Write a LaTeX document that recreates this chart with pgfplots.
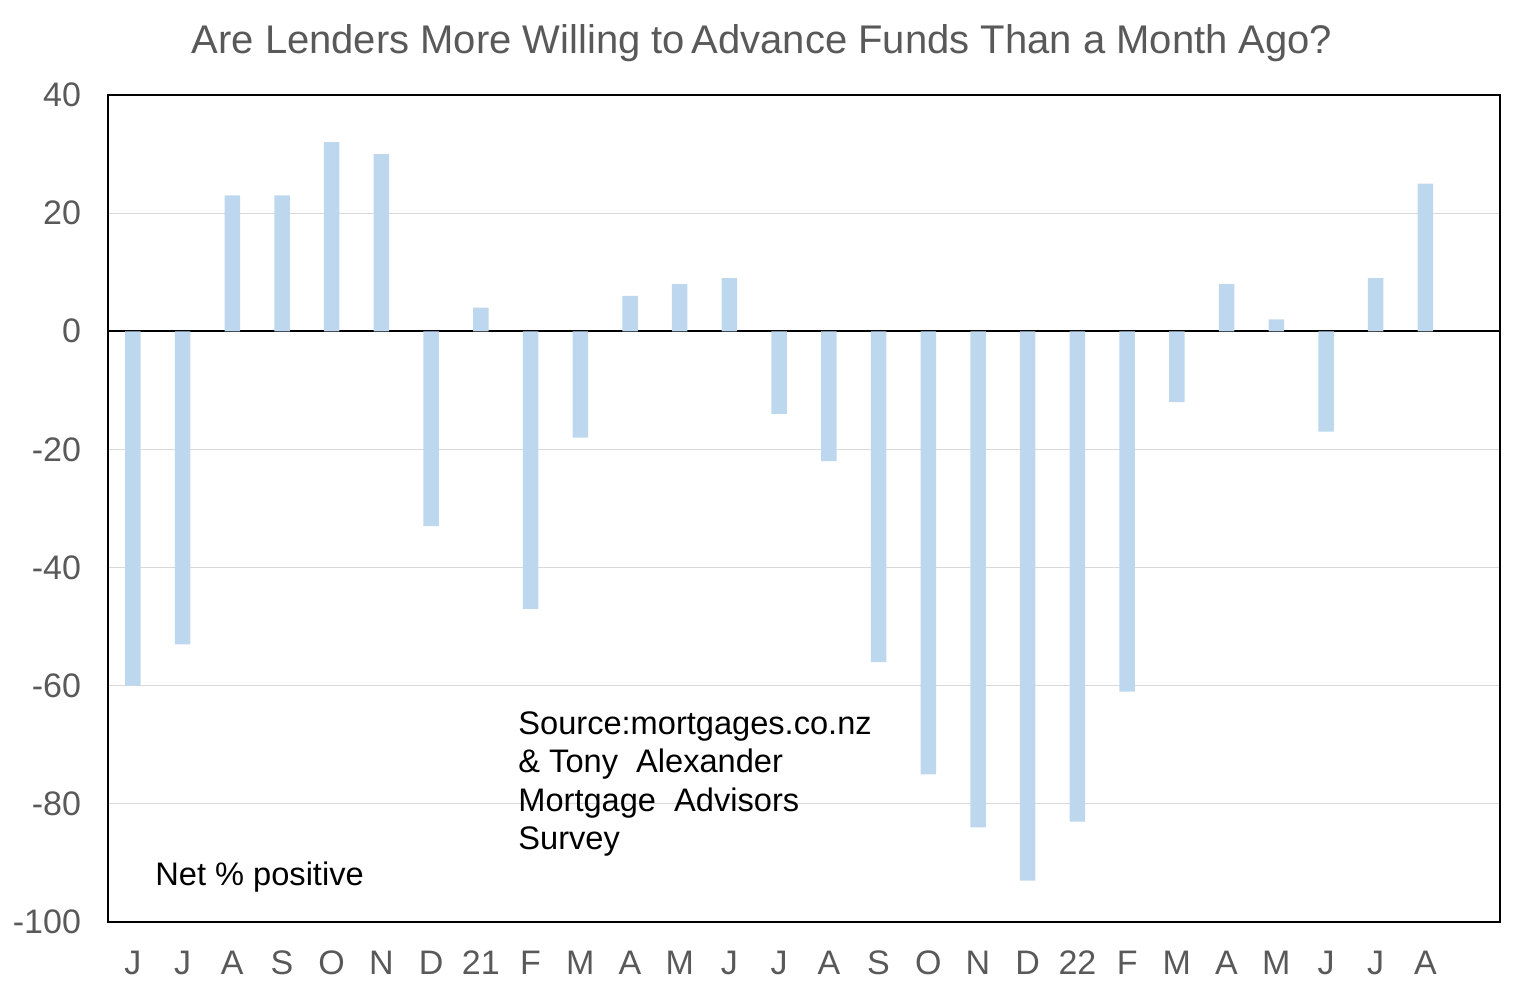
\documentclass[border=0pt]{standalone}
\usepackage{pgfplots}
\pgfplotsset{compat=1.18}
\usepackage{fontspec}
\setmainfont{Liberation Sans}
\definecolor{barc}{HTML}{BDD7EE}
\definecolor{tickc}{HTML}{595959}
\begin{document}
\begin{tikzpicture}
\begin{axis}[
 at={(0,0)}, anchor=south west,
 scale only axis, width=696pt, height=413.5pt,
 xmin=-0.5, xmax=27.5, ymin=-100, ymax=40,
 ytick={-100,-80,...,40},
 xtick={0,...,26},
 xticklabels={J,J,A,S,O,N,D,21,F,M,A,M,J,J,A,S,O,N,D,22,F,M,A,M,J,J,A},
 ymajorgrids, major grid style={draw=black!15, line width=0.6pt},
 major tick length=0pt,
 axis line style={line width=0.8pt},
 ticklabel style={font=\fontsize{17}{17}\selectfont, text=tickc},
 /pgf/number format/assume math mode=true,
 yticklabel style={xshift=-10pt},
 xticklabel style={yshift=-11pt},
 extra y ticks={0}, extra y tick labels={},
 extra y tick style={major grid style={draw=black, line width=0.8pt}},
]
\addplot[ybar, bar width=7.75pt, fill=barc, draw=none] coordinates {
(0,-60) (1,-53) (2,23) (3,23) (4,32) (5,30) (6,-33) (7,4) (8,-47) (9,-18)
(10,6) (11,8) (12,9) (13,-14) (14,-22) (15,-56) (16,-75) (17,-84) (18,-93) (19,-83)
(20,-61) (21,-12) (22,8) (23,2) (24,-17) (25,9) (26,25)
};
\end{axis}
\node[font=\fontsize{20}{20}\selectfont, text=tickc] at (327pt,439.5pt) {Are Lenders More Willing to\,Advance Funds Than a Month Ago?};
\node[font=\fontsize{16.3}{19.3}\selectfont, align=left, anchor=west, inner sep=0pt] at (205pt,69pt) {Source:mortgages.co.nz\\\&\ Tony\ \ Alexander\\Mortgage\ \ Advisors\\Survey};
\node[font=\fontsize{16.3}{16.3}\selectfont, anchor=west, inner sep=0pt] at (23.5pt,22.5pt) {Net \% positive};
\pgfresetboundingbox
\path[use as bounding box] (-54pt,-36.5pt) rectangle (708.5pt,461pt);
\end{tikzpicture}
\end{document}
